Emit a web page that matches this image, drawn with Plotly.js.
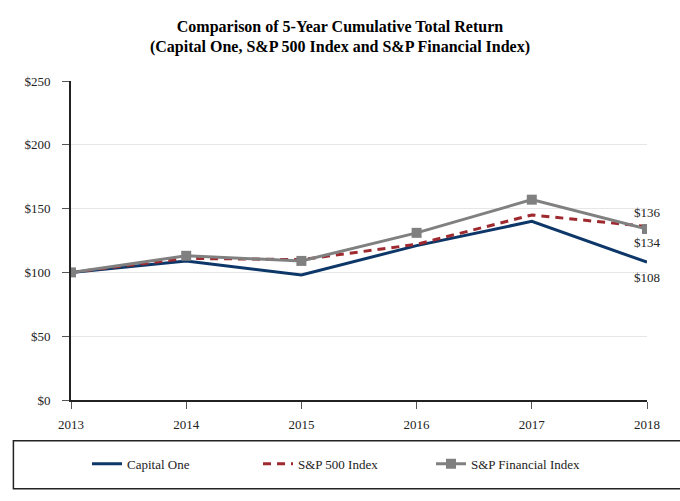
<!DOCTYPE html>
<html>
<head>
<meta charset="utf-8">
<script src="https://cdn.plot.ly/plotly-3.0.1.min.js"></script>
<style>html,body{margin:0;padding:0;background:#fff;}#chart{width:680px;height:501px;}</style>
</head>
<body>
<div id="chart"></div>
<script>
var years = [2013, 2014, 2015, 2016, 2017, 2018];
var capitalOne = [100, 109, 98, 121, 140, 108];
var sp500 = [100, 111, 110, 122, 145, 136];
var spFinancial = [100, 113, 109, 131, 157, 134];
var yTicks = [0, 50, 100, 150, 200, 250];
var yTickLabels = ['$0', '$50', '$100', '$150', '$200', '$250'];
var endLabelShift = {capitalOne: -15, sp500: 14, spFinancial: -13};

var serif = 'Liberation Serif, Times New Roman, serif';

var traces = [
  {x: years, y: capitalOne, name: 'Capital One', type: 'scatter', mode: 'lines',
   line: {color: '#0d3768', width: 3}, legend: 'legend'},
  {x: years, y: sp500, name: 'S&P 500 Index', type: 'scatter', mode: 'lines',
   line: {color: '#9e2a2f', width: 3, dash: '8px,6px'}, legend: 'legend2'},
  {x: years, y: spFinancial, name: 'S&P Financial Index', type: 'scatter', mode: 'lines+markers',
   line: {color: '#808080', width: 3}, marker: {symbol: 'square', size: 10, color: '#808080'},
   legend: 'legend3'}
];

function endLabel(arr, shift) {
  var v = arr[arr.length - 1];
  return {x: years[years.length - 1], y: v, text: '$' + v, showarrow: false,
          xanchor: 'center', xshift: 0, yshift: shift,
          font: {family: serif, size: 13, color: '#222'}};
}

function legendAt(x) {
  return {orientation: 'h', x: x, xanchor: 'left', y: -0.2, yanchor: 'middle',
          font: {family: serif, size: 13, color: '#222'}, bgcolor: 'rgba(0,0,0,0)',
          borderwidth: 0};
}

var layout = {
  width: 680, height: 501,
  margin: {l: 71, r: 33, t: 81, b: 101},
  paper_bgcolor: '#fff', plot_bgcolor: '#fff',
  title: {text: '<b>Comparison of 5-Year Cumulative Total Return<br>(Capital One, S&P 500 Index and S&P Financial Index)</b>',
          x: 0.5, xanchor: 'center', yref: 'container', y: 0.937, yanchor: 'middle',
          font: {family: serif, size: 16, color: '#000'}},
  font: {family: serif, size: 13, color: '#222'},
  xaxis: {range: [2013, 2018], tickvals: years, ticktext: years.map(String),
          showgrid: false, zeroline: false, showline: true, linecolor: '#222', linewidth: 2,
          ticks: 'outside', ticklen: 7, tickcolor: '#555', tickwidth: 1, ticklabelstandoff: 4,
          tickfont: {family: serif, size: 13, color: '#222'}},
  yaxis: {range: [0, 250], tickvals: yTicks, ticktext: yTickLabels,
          showgrid: true, gridcolor: '#e6e6e6', gridwidth: 1, zeroline: false,
          showline: true, linecolor: '#222', linewidth: 2,
          ticks: 'outside', ticklen: 7, tickcolor: '#555', tickwidth: 1, ticklabelstandoff: 9,
          tickfont: {family: serif, size: 13, color: '#222'}},
  showlegend: true,
  legend: legendAt(0.0278),
  legend2: legendAt(0.3247),
  legend3: legendAt(0.625),
  shapes: [{type: 'rect', xref: 'paper', yref: 'paper',
            x0: -0.1, x1: 1.06, y0: -0.278, y1: -0.128,
            line: {color: '#222', width: 1.5}, fillcolor: 'rgba(0,0,0,0)'}],
  annotations: [
    endLabel(sp500, endLabelShift.sp500),
    endLabel(spFinancial, endLabelShift.spFinancial),
    endLabel(capitalOne, endLabelShift.capitalOne)
  ]
};

Plotly.newPlot('chart', traces, layout, {displayModeBar: false, staticPlot: true});
</script>
</body>
</html>
